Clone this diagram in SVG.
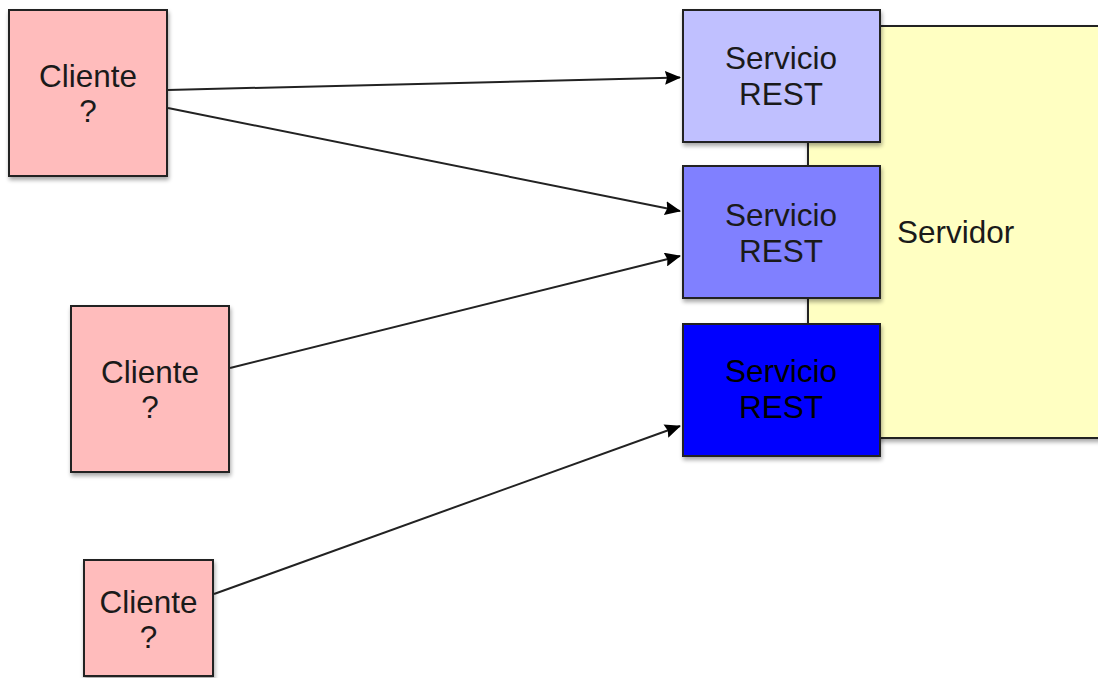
<svg xmlns="http://www.w3.org/2000/svg" width="1098" height="678" viewBox="0 0 1098 678">
<style>
.box{stroke:#222;stroke-width:2;filter:url(#sh)}
.cl{fill:#FFBCBC}
.t{font-family:"Liberation Sans",Arial,sans-serif;font-size:31.5px;fill:#1a1a1a;text-anchor:middle}
.conn line{stroke:#222;stroke-width:2;marker-end:url(#ah)}
</style>
<defs>
<filter id="sh" x="-10%" y="-10%" width="130%" height="130%">
<feGaussianBlur in="SourceAlpha" stdDeviation="2"/>
<feOffset dx="1" dy="3" result="b"/>
<feComponentTransfer><feFuncA type="linear" slope="0.35"/></feComponentTransfer>
<feMerge><feMergeNode/><feMergeNode in="SourceGraphic"/></feMerge>
</filter>
<marker id="ah" markerWidth="16" markerHeight="14" refX="15" refY="7" orient="auto" markerUnits="userSpaceOnUse">
<path d="M0,0 L16,7 L0,14 L2,7 Z" fill="#000"/>
</marker>
</defs>
<g id="servidor">
<rect class="box" x="808" y="26" width="300" height="412" fill="#FFFFC2"/>
<text class="t" x="897" y="243" style="text-anchor:start">Servidor</text>
</g>
<g id="rest1">
<rect class="box" x="683" y="10" width="197" height="132" fill="#C0C0FF"/>
<text class="t" x="781" y="69">Servicio</text>
<text class="t" x="781" y="105">REST</text>
</g>
<g id="rest2">
<rect class="box" x="683" y="166" width="197" height="132" fill="#8080FF"/>
<text class="t" x="781" y="226">Servicio</text>
<text class="t" x="781" y="262">REST</text>
</g>
<g id="rest3">
<rect class="box" x="683" y="324" width="197" height="132" fill="#0000FF"/>
<text class="t" x="781" y="382" style="fill:#000">Servicio</text>
<text class="t" x="781" y="418" style="fill:#000">REST</text>
</g>
<g id="cliente1">
<rect class="box cl" x="9" y="10" width="158" height="166"/>
<text class="t" x="88" y="87">Cliente</text>
<text class="t" x="88" y="122">?</text>
</g>
<g id="cliente2">
<rect class="box cl" x="71" y="306" width="158" height="166"/>
<text class="t" x="150" y="383">Cliente</text>
<text class="t" x="150" y="418">?</text>
</g>
<g id="cliente3">
<rect class="box cl" x="84" y="560" width="129" height="116"/>
<text class="t" x="148.5" y="613">Cliente</text>
<text class="t" x="148.5" y="648">?</text>
</g>
<g id="connectors" class="conn">
<line x1="168" y1="90" x2="680" y2="77.5"/>
<line x1="168" y1="108" x2="680" y2="211"/>
<line x1="230" y1="368" x2="680" y2="256"/>
<line x1="214" y1="594" x2="680" y2="426"/>
</g>
</svg>
